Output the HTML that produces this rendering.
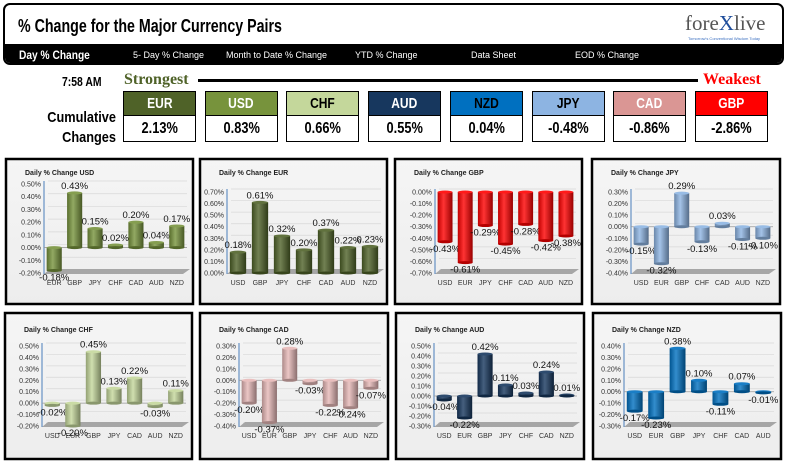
<!DOCTYPE html>
<html><head><meta charset="utf-8">
<style>
body{margin:0;width:786px;height:464px;overflow:hidden;background:#fff;font-family:"Liberation Sans",sans-serif;position:relative}
.abs{position:absolute}
.nar{font-family:"Liberation Sans Narrow","Liberation Sans",sans-serif;font-stretch:condensed;font-weight:bold}
.box{position:absolute;width:71px;border:1px solid #000}
.box .h{height:23px;line-height:23px;text-align:center;color:#fff;font-size:15px;border-bottom:1px solid #000}
.box .v{height:25px;line-height:25px;text-align:center;font-size:16px;color:#000;background:#fff}
.box span{display:inline-block;transform:scaleX(0.8)}
.nav span{position:absolute;top:6px;font-size:9px;color:#fff}
</style></head><body>
<div class="abs" style="left:3px;top:3px;width:777px;height:58px;border:2px solid #000;border-radius:7px;overflow:hidden;background:#fff">
 <div class="abs nar" style="left:13px;top:11px;font-size:18px;transform:scaleX(0.79);transform-origin:left">% Change for the Major Currency Pairs</div>
 <div class="abs" style="left:680px;top:6px;font-family:'Liberation Serif',serif;font-size:21px;color:#555">fore<span style="color:#1f4e9c">X</span>live</div>
 <div class="abs" style="left:683px;top:31px;font-size:4px;color:#3b6fc0">Tomorrow's Conventional Wisdom Today</div>
 <div class="abs nav" style="left:0;top:39px;width:777px;height:21px;background:#000">
  <span style="left:14px;top:4px;font-size:12px;font-weight:bold;transform:scaleX(0.85);transform-origin:left">Day % Change</span>
  <span style="left:128px">5- Day % Change</span>
  <span style="left:221px">Month to Date % Change</span>
  <span style="left:350px">YTD % Change</span>
  <span style="left:466px">Data Sheet</span>
  <span style="left:570px">EOD % Change</span>
 </div>
</div>
<div class="abs nar" style="left:62px;top:74px;font-size:13px;transform:scaleX(0.8);transform-origin:left">7:58 AM</div>
<div class="abs" style="left:124px;top:71px;font-family:'Liberation Serif',serif;font-weight:bold;font-size:16px;color:#4f6228">Strongest</div>
<div class="abs" style="left:198px;top:79px;width:500px;height:3px;background:#000"></div>
<div class="abs" style="left:703px;top:71px;font-family:'Liberation Serif',serif;font-weight:bold;font-size:16px;color:#f00">Weakest</div>
<div class="abs nar" style="left:16px;top:108px;width:100px;text-align:right;font-size:15px;line-height:20px;transform:scaleX(0.85);transform-origin:right">Cumulative<br>Changes</div>
<div id="boxes"></div>
<svg id="charts" class="abs" style="left:0;top:0" width="786" height="464"></svg>
<script>
const boxCur=["EUR","USD","CHF","AUD","NZD","JPY","CAD","GBP"];
const boxVal=["2.13%","0.83%","0.66%","0.55%","0.04%","-0.48%","-0.86%","-2.86%"];
const boxBg=["#4f6228","#77933c","#c4d79b","#17375e","#0070c0","#8db4e2","#da9694","#ff0000"];
const boxFg=["#fff","#fff","#000","#fff","#000","#000","#fff","#fff"];
const bc=document.getElementById('boxes');
boxCur.forEach((c,i)=>{
 const d=document.createElement('div');d.className='box';
 
 
 d.style.left=(123+i*81.7)+'px';d.style.top='91px';
 d.innerHTML='<div class="h nar" style="background:'+boxBg[i]+';color:'+boxFg[i]+'"><span>'+c+'</span></div><div class="v nar"><span>'+boxVal[i]+'</span></div>';
 bc.appendChild(d);
});

const chartTitles=["USD","EUR","GBP","JPY","CHF","CAD","AUD","NZD"];
const catUSD=["EUR","GBP","JPY","CHF","CAD","AUD","NZD"];
const valUSD=[-0.18,0.43,0.15,0.02,0.20,0.04,0.17];
const catEUR=["USD","GBP","JPY","CHF","CAD","AUD","NZD"];
const valEUR=[0.18,0.61,0.32,0.20,0.37,0.22,0.23];
const catGBP=["USD","EUR","JPY","CHF","CAD","AUD","NZD"];
const valGBP=[-0.43,-0.61,-0.29,-0.45,-0.28,-0.42,-0.38];
const catJPY=["USD","EUR","GBP","CHF","CAD","AUD","NZD"];
const valJPY=[-0.15,-0.32,0.29,-0.13,0.03,-0.11,-0.10];
const catCHF=["USD","EUR","GBP","JPY","CAD","AUD","NZD"];
const valCHF=[-0.02,-0.20,0.45,0.13,0.22,-0.03,0.11];
const catCAD=["USD","EUR","GBP","JPY","CHF","AUD","NZD"];
const valCAD=[-0.20,-0.37,0.28,-0.03,-0.22,-0.24,-0.07];
const catAUD=["USD","EUR","GBP","JPY","CHF","CAD","NZD"];
const valAUD=[-0.04,-0.22,0.42,0.11,0.03,0.24,0.01];
const catNZD=["USD","EUR","GBP","JPY","CHF","CAD","AUD"];
const valNZD=[-0.17,-0.23,0.38,0.10,-0.11,0.07,-0.01];
const axisMax=[0.5,0.7,0.0,0.3,0.5,0.3,0.5,0.4];
const axisMin=[-0.2,0.0,-0.7,-0.4,-0.2,-0.4,-0.3,-0.3];

const cats=[catUSD,catEUR,catGBP,catJPY,catCHF,catCAD,catAUD,catNZD];
const vals=[valUSD,valEUR,valGBP,valJPY,valCHF,valCAD,valAUD,valNZD];
const colors=["#77933c","#4f6228","#ff0000","#8db4e2","#c4d79b","#e6b8b7","#17375e","#0070c0"];
const panels=[[5,158,189,147],[199,158,189,147],[394,158,189,147],[591,158,190,147],[4,312,189,148],[199,312,190,148],[395,312,190,148],[592,312,190,148]];
const axX=[39,28,41,40,38,40,39,32];
const NS='http://www.w3.org/2000/svg';
const svg=document.getElementById('charts');
function el(t,a,p){const e=document.createElementNS(NS,t);for(const k in a)e.setAttribute(k,a[k]);(p||svg).appendChild(e);return e;}
function shade(hex,f){const n=parseInt(hex.slice(1),16);let r=n>>16,g=(n>>8)&255,b=n&255;
 const m=v=>Math.max(0,Math.min(255,Math.round(f<0?v*(1+f):v+(255-v)*f)));return 'rgb('+m(r)+','+m(g)+','+m(b)+')';}
const defs=el('defs',{});
const pg=el('linearGradient',{id:'pbg',x1:0,y1:0,x2:0,y2:1},defs);
el('stop',{offset:0,'stop-color':'#f5f5f5'},pg);el('stop',{offset:1,'stop-color':'#ededed'},pg);
colors.forEach((c,i)=>{const g=el('linearGradient',{id:'g'+i,x1:0,y1:0,x2:1,y2:0},defs);
 el('stop',{offset:0,'stop-color':shade(c,-0.25)},g);el('stop',{offset:0.4,'stop-color':shade(c,0.2)},g);el('stop',{offset:1,'stop-color':shade(c,-0.4)},g);});

panels.forEach((p,i)=>{
 const [px,py,pw,ph]=p;
 const g=el('g',{});
 
 
 el('rect',{x:px+1,y:py+1,width:pw-2,height:ph-2,fill:'url(#pbg)',stroke:'#000','stroke-width':2.5},g);
 const t=el('text',{x:px+20,y:py+(i<4?17:20),'font-size':7,'font-weight':'bold',fill:'#222','font-family':'Liberation Sans, sans-serif'},g);
 t.textContent='Daily % Change '+chartTitles[i];
 
 
 const top=py+(i<4?(i==0?26:34):34), bot=py+(i<4?115:114);
 const ax=px+axX[i], right=px+182;
 const mx=axisMax[i], mn=axisMin[i];
 const y=v=>top+(mx-v)/(mx-mn)*(bot-top);
 const nt=Math.round((mx-mn)/0.1);
 for(let k=0;k<=nt;k++){const v=mx-k*0.1;const yy=y(v);
  el('line',{x1:ax+4,x2:right,y1:yy-3,y2:yy-3,stroke:'#d8d8d8','stroke-width':0.7},g);
  const tl=el('text',{x:ax-3,y:yy+2.5,'font-size':7,'text-anchor':'end',fill:'#333'},g);
  tl.textContent=(v.toFixed(2)=='-0.00'?'0.00':v.toFixed(2))+'%';
  
  
 }
 el('polygon',{points:[ax,bot+1,right-4,bot+1,right+3,bot-4,ax+6,bot-4].join(' '),fill:'#a6a6a6'},g);
 el('line',{x1:ax,x2:ax,y1:top-3,y2:bot+1,stroke:'#4a7ebb','stroke-width':1},g);
 const y0=y(0);
 if(mn<0&&mx>0) el('line',{x1:ax,x2:right,y1:y0,y2:y0,stroke:'#999','stroke-width':0.8},g);
 const step=(right-ax)/7, bw=step*0.74;
 vals[i].forEach((v,j)=>{
  const cx=ax+step*(j+0.5);
  const yv=y(v), y1=Math.min(yv,y0), y2=Math.max(yv,y0);
  const b=el('rect',{x:cx-bw/2,y:y1,width:bw,height:Math.max(y2-y1,1),fill:'url(#g'+i+')'},g);
  
  
  el('ellipse',{cx:cx,cy:y1,rx:bw/2,ry:1.5,fill:shade(colors[i],0.1)},g);
  el('ellipse',{cx:cx,cy:y2,rx:bw/2,ry:1.5,fill:shade(colors[i],-0.3)},g);
  const lt=el('text',{x:cx,y:v>=0?yv-4:yv+10,'font-size':9.5,'text-anchor':'middle',fill:'#111'},g);
  lt.textContent=v.toFixed(2)+'%';
  
  
  const cl=el('text',{x:cx,y:bot+12,'font-size':7,'text-anchor':'middle',fill:'#333'},g);
  cl.textContent=cats[i][j];
  
  
 });
});
</script>
</body></html>
